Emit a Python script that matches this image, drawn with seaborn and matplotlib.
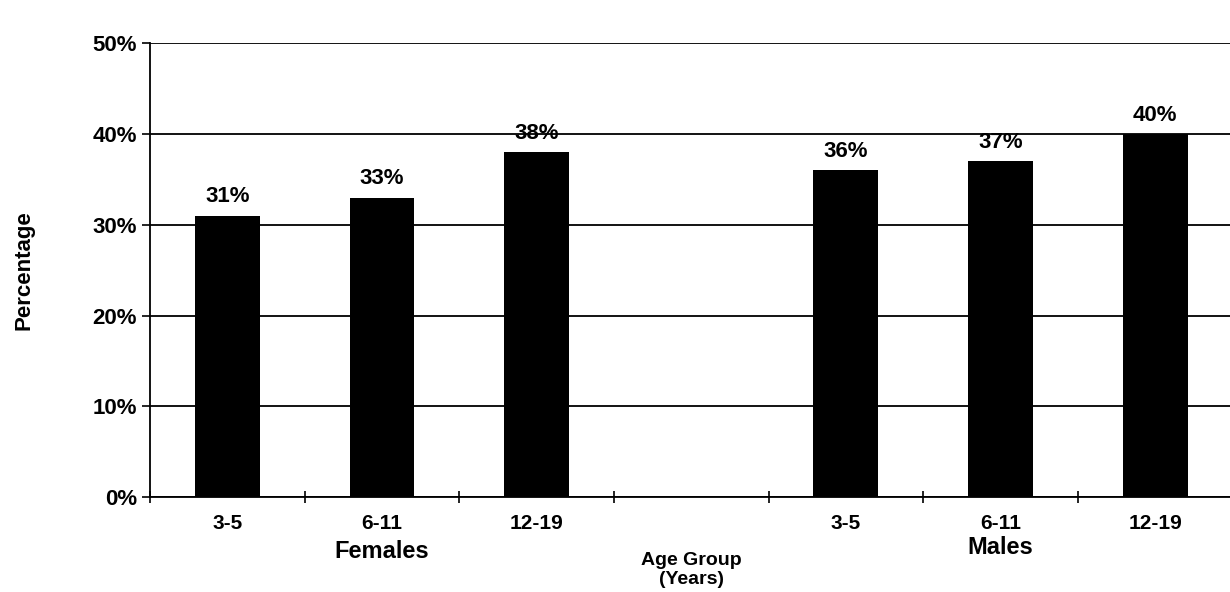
import matplotlib
matplotlib.use("Agg")
import matplotlib.pyplot as plt
import seaborn as sns
import pandas as pd

age_groups = ["3-5", "6-11", "12-19"]
female_values = [31, 33, 38]
male_values = [36, 37, 40]
group_names = ["Females", "Males"]
y_ticks = [0, 10, 20, 30, 40, 50]

keys = [f"F {a}" for a in age_groups] + ["gap"] + [f"M {a}" for a in age_groups]
df = pd.DataFrame({
    "key": [f"F {a}" for a in age_groups] + [f"M {a}" for a in age_groups],
    "value": female_values + male_values,
})

sns.set_theme(style="white")
plt.rcParams["font.family"] = ["Liberation Sans", "DejaVu Sans"]
plt.rcParams["font.weight"] = "bold"
plt.rcParams["text.color"] = "black"
plt.rcParams["axes.labelcolor"] = "black"
plt.rcParams["xtick.color"] = "black"
plt.rcParams["ytick.color"] = "black"

fig = plt.figure(figsize=(12.3, 5.92), dpi=100)
ax = fig.add_axes([0.122, 0.16, 0.88, 0.767])

sns.barplot(data=df, x="key", y="value", order=keys, color="black",
            width=0.42, ax=ax, saturation=1, edgecolor="black", linewidth=0)

ax.set_ylim(0, 50)
ax.set_xlim(-0.5, 6.5)
ax.set_yticks(y_ticks)
ax.set_yticklabels([f"{t}%" for t in y_ticks], fontsize=16, fontweight="bold")
ax.yaxis.grid(True, color="black", linewidth=1.3)
ax.set_axisbelow(True)

for c in ax.containers:
    ax.bar_label(c, labels=[f"{v:.0f}%" for v in c.datavalues], padding=6,
                 fontsize=16, fontweight="bold", color="black")

# category labels
ax.set_xticks(range(7))
ax.set_xticklabels(age_groups + [""] + age_groups, fontsize=15, fontweight="bold")
ax.tick_params(axis="x", which="major", length=0, pad=12, bottom=True)
ax.set_xticks([i - 0.5 for i in range(8)], minor=True)
ax.tick_params(axis="x", which="minor", length=8, width=1.2, direction="inout",
               color="black", bottom=True)
ax.tick_params(axis="y", length=6, width=1.2, color="black", direction="out", left=True)

for s in ["top", "right"]:
    ax.spines[s].set_visible(False)
for s in ["left", "bottom"]:
    ax.spines[s].set_color("black")
    ax.spines[s].set_linewidth(1.3)

ax.set_xlabel("")
ax.set_ylabel("Percentage", fontsize=16, fontweight="bold", labelpad=42)

ax.text(1, -0.095, group_names[0], transform=ax.get_xaxis_transform(),
        ha="center", va="top", fontsize=17, fontweight="bold")
ax.text(5, -0.085, group_names[1], transform=ax.get_xaxis_transform(),
        ha="center", va="top", fontsize=17, fontweight="bold")
ax.text(3, -0.12, "Age Group\n(Years)", transform=ax.get_xaxis_transform(),
        ha="center", va="top", fontsize=14, fontweight="bold", linespacing=1.2)

fig.savefig("out.png", dpi=100, facecolor="white")
